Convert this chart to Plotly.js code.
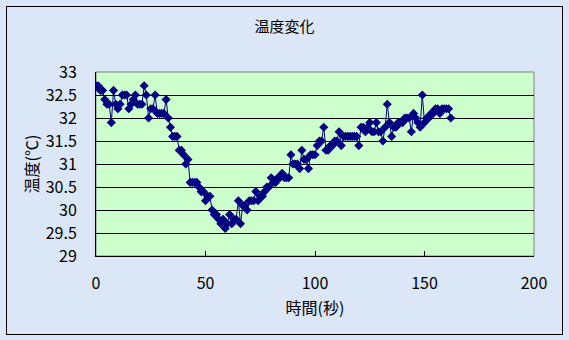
<!DOCTYPE html>
<html>
<head>
<meta charset="utf-8">
<script src="https://cdn.plot.ly/plotly-3.0.1.min.js"></script>
<style>
html,body{margin:0;padding:0;}
#wrap{position:relative;width:569px;height:340px;background:#dbe7f6;overflow:hidden;}
#chart{position:absolute;left:0;top:0;width:569px;height:340px;}
#frame{position:absolute;left:6px;top:6px;width:555px;height:327px;border:1px solid #000;pointer-events:none;}
</style>
</head>
<body>
<div id="wrap"><div id="chart"></div><div id="frame"></div></div>
<script>
const chartTitle = '温度変化';
const xTitle = '時間(秒)';
const yTitle = '温度(℃)';
const times = [0,1,2,3,4,5,6,7,8,9,10,11,12,13,14,15,16,17,18,19,20,21,22,23,24,25,26,27,28,29,30,31,32,33,34,35,36,37,38,39,40,41,42,43,44,45,46,47,48,49,50,51,52,53,54,55,56,57,58,59,60,61,62,63,64,65,66,67,68,69,70,71,72,73,74,75,76,77,78,79,80,81,82,83,84,85,86,87,88,89,90,91,92,93,94,95,96,97,98,99,100,101,102,103,104,105,106,107,108,109,110,111,112,113,114,115,116,117,118,119,120,121,122,123,124,125,126,127,128,129,130,131,132,133,134,135,136,137,138,139,140,141,142,143,144,145,146,147,148,149,150,151,152,153,154,155,156,157,158,159,160,161,162,163];
const temps = [32.7,32.7,32.6,32.6,32.4,32.3,32.3,31.9,32.6,32.3,32.2,32.3,32.5,32.5,32.5,32.2,32.3,32.4,32.5,32.3,32.3,32.3,32.7,32.5,32.0,32.2,32.2,32.5,32.1,32.1,32.1,32.1,32.4,32.0,31.8,31.6,31.6,31.6,31.3,31.3,31.2,31.0,31.1,30.6,30.6,30.6,30.6,30.5,30.4,30.4,30.2,30.3,30.3,30.0,29.9,29.9,29.8,29.7,29.8,29.6,29.7,29.9,29.7,29.8,29.8,30.2,29.7,30.1,30.1,30.0,30.2,30.2,30.2,30.4,30.2,30.3,30.3,30.4,30.5,30.5,30.7,30.6,30.6,30.7,30.7,30.8,30.7,30.7,30.7,31.2,31.0,31.0,31.0,30.9,31.3,31.1,31.1,30.9,31.2,31.2,31.2,31.4,31.5,31.5,31.8,31.3,31.3,31.4,31.4,31.5,31.5,31.7,31.4,31.6,31.6,31.6,31.6,31.6,31.6,31.6,31.4,31.8,31.8,31.7,31.8,31.9,31.7,31.7,31.9,31.7,31.7,31.5,31.8,32.3,31.9,31.6,31.8,31.8,31.9,31.9,31.9,32.0,32.0,32.0,31.7,32.1,32.0,31.9,31.8,32.5,31.9,32.0,32.0,32.1,32.1,32.2,32.2,32.1,32.2,32.2,32.2,32.2,32.0];
const xTicks = [0,50,100,150,200];
const yTicks = [29,29.5,30,30.5,31,31.5,32,32.5,33];

const font = '"Noto Sans CJK JP", "DejaVu Sans", sans-serif';
const trace = {
  x: times, y: temps, type: 'scatter', mode: 'lines+markers',
  line: {color: '#000080', width: 1},
  marker: {symbol: 'diamond', size: 7, color: '#000080'},
  hoverinfo: 'skip'
};
const layout = {
  width: 569, height: 340,
  margin: {l: 96, r: 35, t: 72, b: 84},
  paper_bgcolor: 'rgba(0,0,0,0)',
  plot_bgcolor: '#ccffcc',
  showlegend: false,
  font: {family: font, size: 16, color: '#000'},
  title: {text: chartTitle, font: {family: font, size: 15, color: '#000'}, x: 0.5, xanchor: 'center', y: 1 - 27/340, yanchor: 'middle', yref: 'container'},
  xaxis: {
    range: [0, 200], tickvals: xTicks, ticktext: xTicks.map(String),
    showgrid: false, zeroline: false,
    showline: true, linecolor: '#000', linewidth: 1,
    ticks: 'inside', ticklen: 5, tickcolor: '#000',
    ticklabelstandoff: 13,
    tickfont: {family: font, size: 16, color: '#000'},
    title: {text: xTitle, font: {family: font, size: 16, color: '#000'}, standoff: 9},
    automargin: false
  },
  yaxis: {
    range: [29, 33], tickvals: yTicks, ticktext: yTicks.map(String),
    showgrid: true, gridcolor: '#000', gridwidth: 1,
    zeroline: false,
    showline: true, linecolor: '#000', linewidth: 1,
    ticks: 'inside', ticklen: 5, tickcolor: '#000',
    ticklabelstandoff: 15,
    tickfont: {family: font, size: 16, color: '#000'},
    title: {text: yTitle, font: {family: font, size: 16, color: '#000'}, standoff: 3},
    automargin: false
  },
  shapes: [{type: 'rect', xref: 'paper', yref: 'paper', x0: 0, x1: 1, y0: 0, y1: 1, line: {color: '#808080', width: 1}, layer: 'below'}]
};
Plotly.newPlot('chart', [trace], layout, {displayModeBar: false, staticPlot: true});
</script>
</body>
</html>
